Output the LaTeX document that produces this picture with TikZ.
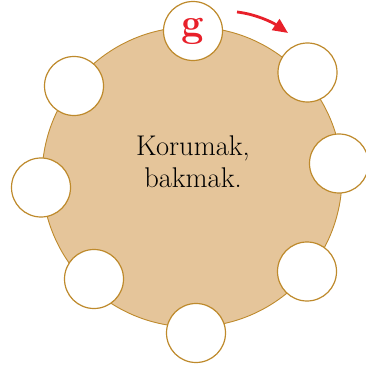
\documentclass[tikz,border=0pt]{standalone}
\usetikzlibrary{arrows.meta}
\definecolor{tan}{HTML}{E5C59A}
\definecolor{edge}{HTML}{BE8A2C}
\definecolor{gred}{HTML}{E8202A}
\begin{document}
\begin{tikzpicture}[x=1pt,y=-1pt,
  slot/.style={circle,draw=edge,line width=1.2pt,fill=white,minimum size=59pt,inner sep=0pt}]
\useasboundingbox (0,0) rectangle (365,371);
\node[circle,draw=edge,line width=0.9pt,fill=tan,minimum size=300pt,inner sep=0pt] (big) at (192,177) {};
\node[align=center,font=\fontsize{28.5}{32}\selectfont] (txt) at (193,162) {Korumak,\\bakmak.};
\node[slot,font=\fontsize{40}{40}\selectfont\bfseries,text=gred] (s1) at (193,31) {\raisebox{1pt}{g}};
\node[slot] (s2) at (307.5,72.5) {};
\node[slot] (s3) at (339,163.5) {};
\node[slot] (s4) at (307,271.5) {};
\node[slot] (s5) at (196,333) {};
\node[slot] (s6) at (94,279) {};
\node[slot] (s7) at (41,187.5) {};
\node[slot] (s8) at (74,86) {};
\coordinate (a1) at (237,12);
\coordinate (a2) at (288,33);
\draw[gred,line width=2.8pt,-{Triangle[length=15pt,width=13pt]}] (a1) .. controls (255,14) and (272,22) .. (a2);
\end{tikzpicture}
\end{document}
